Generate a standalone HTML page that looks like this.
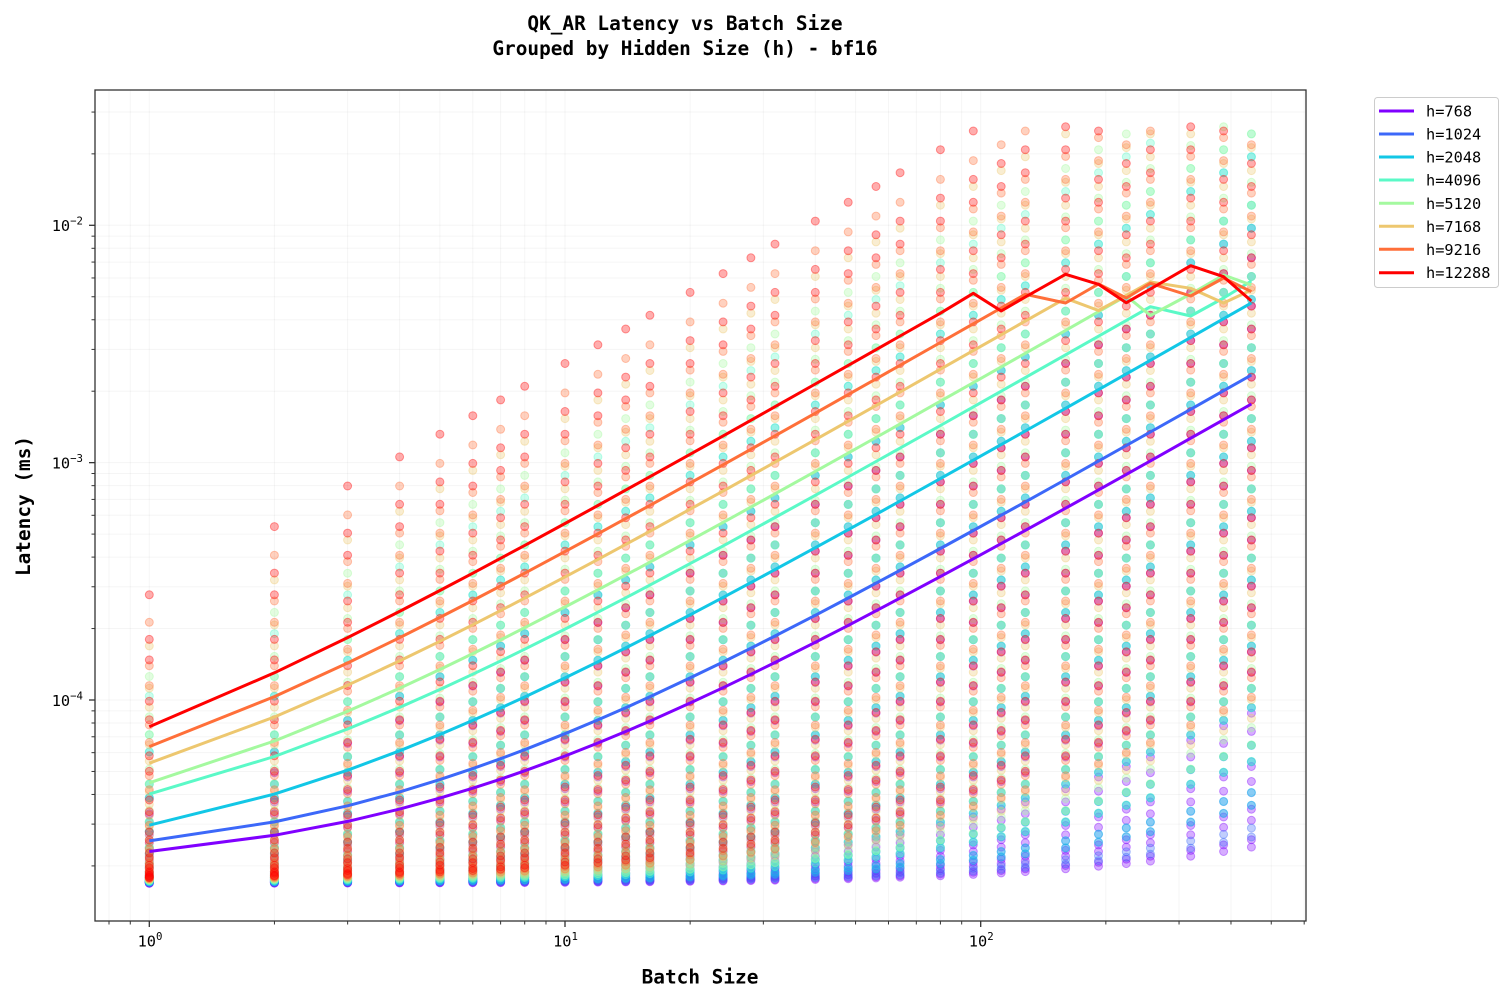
<!DOCTYPE html>
<html>
<head>
<meta charset="utf-8">
<style>
html,body{margin:0;padding:0;background:#fff;}
svg{display:block;font-family:"DejaVu Sans Mono","Liberation Mono",monospace;}
</style>
</head>
<body>
<svg id="c" width="1510" height="1000" viewBox="0 0 1510 1000" xmlns="http://www.w3.org/2000/svg">
<rect width="1510" height="1000" fill="#fff"/>
<g id="grid" stroke="#000" stroke-opacity="0.04" stroke-width="1"></g>
<g id="dots"></g>
<g id="lines" fill="none" stroke-width="3" stroke-linejoin="round" stroke-linecap="butt"></g>
<rect x="95" y="90" width="1211" height="831" fill="none" stroke="#333" stroke-width="1.3"/>
<g id="ticks" stroke="#333"></g>

<!-- Title -->
<text x="685" y="30" text-anchor="middle" font-size="19.4" font-weight="bold" fill="#000">QK_AR Latency vs Batch Size</text>
<text x="685" y="55" text-anchor="middle" font-size="19.4" font-weight="bold" fill="#000">Grouped by Hidden Size (h) - bf16</text>

<!-- Axis labels -->
<text x="700" y="983.5" text-anchor="middle" font-size="19.4" font-weight="bold" fill="#000">Batch Size</text>
<text transform="translate(30,506) rotate(-90)" x="0" y="0" text-anchor="middle" font-size="19.4" font-weight="bold" fill="#000">Latency (ms)</text>

<!-- Y tick labels -->
<g font-size="15.3" fill="#000" text-anchor="end">
<text x="83" y="231">10<tspan font-size="10.7" dy="-6.5">−2</tspan></text>
<text x="83" y="468.5">10<tspan font-size="10.7" dy="-6.5">−3</tspan></text>
<text x="83" y="705.8">10<tspan font-size="10.7" dy="-6.5">−4</tspan></text>
</g>
<!-- X tick labels -->
<g font-size="15.3" fill="#000" text-anchor="middle">
<text x="150" y="946.7">10<tspan font-size="10.7" dy="-6.5">0</tspan></text>
<text x="565.5" y="946.7">10<tspan font-size="10.7" dy="-6.5">1</tspan></text>
<text x="981.2" y="946.7">10<tspan font-size="10.7" dy="-6.5">2</tspan></text>
</g>

<!-- Legend -->
<rect x="1374.5" y="97.5" width="124" height="190" rx="3" ry="3" fill="#fff" fill-opacity="0.8" stroke="#cccccc" stroke-width="1"/>
<g stroke-width="3">
<line x1="1379" y1="111" x2="1414" y2="111" stroke="#8000ff"/>
<line x1="1379" y1="134" x2="1414" y2="134" stroke="#3c68f9"/>
<line x1="1379" y1="157" x2="1414" y2="157" stroke="#12c7e6"/>
<line x1="1379" y1="180" x2="1414" y2="180" stroke="#5bf9c7"/>
<line x1="1379" y1="203.3" x2="1414" y2="203.3" stroke="#a4f99f"/>
<line x1="1379" y1="226.3" x2="1414" y2="226.3" stroke="#edc76f"/>
<line x1="1379" y1="249.3" x2="1414" y2="249.3" stroke="#ff6f39"/>
<line x1="1379" y1="272.7" x2="1414" y2="272.7" stroke="#ff0000"/>
</g>
<g font-size="15.3" fill="#000">
<text x="1426" y="116.5">h=768</text>
<text x="1426" y="139.5">h=1024</text>
<text x="1426" y="162.5">h=2048</text>
<text x="1426" y="185.5">h=4096</text>
<text x="1426" y="208.8">h=5120</text>
<text x="1426" y="231.8">h=7168</text>
<text x="1426" y="254.8">h=9216</text>
<text x="1426" y="278.2">h=12288</text>
</g>
</svg>
<script>
(function(){
var X0=149.3, XD=415.7, Y2=225.3, YD=237.35;
function X(b){return X0+XD*Math.log10(b);}
function Y(v){return Y2+(-2-Math.log10(v))*YD;}
var L=95,R=1306,T=90,B=921;
var hs=[768,1024,2048,4096,5120,7168,9216,12288];
var cols=["#8000ff","#3c68f9","#12c7e6","#5bf9c7","#a4f99f","#edc76f","#ff6f39","#ff0000"];
var bs=[1,2,3,4,5,6,7,8,10,12,14,16,20,24,28,32,40,48,56,64,80,96,112,128,160,192,224,256,320,384,448];

// grid + ticks
var g="",t="";
var xmaj=[1,10,100], xmin=[0.8,0.9];
for(var d=1;d<=100;d*=10){for(var m=2;m<=9;m++){var v=m*d; if(X(v)<R) xmin.push(v);}}
xmaj.forEach(function(v){var x=X(v).toFixed(2);g+='<line x1="'+x+'" y1="'+T+'" x2="'+x+'" y2="'+B+'"/>';t+='<line x1="'+x+'" y1="'+B+'" x2="'+x+'" y2="'+(B+6)+'" stroke-width="1.3"/>';});
xmin.forEach(function(v){var x=X(v).toFixed(2);if(X(v)<=L)return;g+='<line x1="'+x+'" y1="'+T+'" x2="'+x+'" y2="'+B+'"/>';t+='<line x1="'+x+'" y1="'+B+'" x2="'+x+'" y2="'+(B+3.5)+'" stroke-width="1"/>';});
var ymaj=[1e-2,1e-3,1e-4], ymin=[];
[1e-5,1e-4,1e-3,1e-2].forEach(function(d){for(var m=2;m<=9;m++){var v=m*d;var y=Y(v);if(y>T&&y<B)ymin.push(v);}});
ymaj.forEach(function(v){var y=Y(v).toFixed(2);g+='<line x1="'+L+'" y1="'+y+'" x2="'+R+'" y2="'+y+'"/>';t+='<line x1="'+(L-6)+'" y1="'+y+'" x2="'+L+'" y2="'+y+'" stroke-width="1.3"/>';});
ymin.forEach(function(v){var y=Y(v).toFixed(2);g+='<line x1="'+L+'" y1="'+y+'" x2="'+R+'" y2="'+y+'"/>';t+='<line x1="'+(L-3.5)+'" y1="'+y+'" x2="'+L+'" y2="'+y+'" stroke-width="1"/>';});
document.getElementById('grid').innerHTML=g;
document.getElementById('ticks').innerHTML=t;

// scatter
var Ls=[];
for(var n=0;n<=10;n++)Ls.push(Math.pow(2,n));
for(var n=0;n<=9;n++)Ls.push(1.25*Math.pow(2,n));
var k=2.066e-11;
var s="";
for(var hi=0;hi<hs.length;hi++){
  var h=hs[hi], f0=1.69e-5+0.07e-5*hi/7, c=cols[hi];
  s+='<g fill="'+c+'" fill-opacity="0.32" stroke="'+c+'" stroke-opacity="0.38" stroke-width="1">';
  for(var bi=0;bi<bs.length;bi++){
    var b=bs[bi], x=X(b).toFixed(1);
    for(var li=0;li<Ls.length;li++){
      var v=f0+k*h*b*Ls[li];
      if(v>2.7e-2)continue;
      s+='<circle cx="'+x+'" cy="'+Y(v).toFixed(1)+'" r="4"/>';
    }
  }
  s+='</g>';
}
document.getElementById('dots').innerHTML=s;

// lines
var C=[[1.91e-5,3.9e-6],[2.03e-5,5.18e-6],[1.92e-5,1.047e-5],[2.25e-5,1.765e-5],[2.24e-5,2.24e-5],[2.35e-5,3.065e-5],[2.38e-5,3.98e-5],[2.42e-5,5.30e-5]];
var OV=[{},{},{},
 {320:316,384:298,448:281},
 {256:315.5,320:294,384:275,448:285},
 {192:310.5,224:295.5,256:282,320:288.3,384:303,448:290},
 {160:303,192:284,224:298,256:283.3,320:296,384:278,448:291.7},
 {96:293.3,112:311,128:297,160:274.3,192:284.3,224:302.7,256:289,320:265.7,384:276.7,448:301}];
var ls="";
for(var hi=0;hi<hs.length;hi++){
  var pts=[];
  for(var bi=0;bi<bs.length;bi++){
    var b=bs[bi], y;
    if(OV[hi][b]!==undefined) y=OV[hi][b]; else y=Y(C[hi][0]+C[hi][1]*b);
    pts.push(X(b).toFixed(1)+','+y.toFixed(1));
  }
  ls+='<polyline points="'+pts.join(' ')+'" stroke="'+cols[hi]+'"/>';
}
document.getElementById('lines').innerHTML=ls;
})();
</script>
</body>
</html>
